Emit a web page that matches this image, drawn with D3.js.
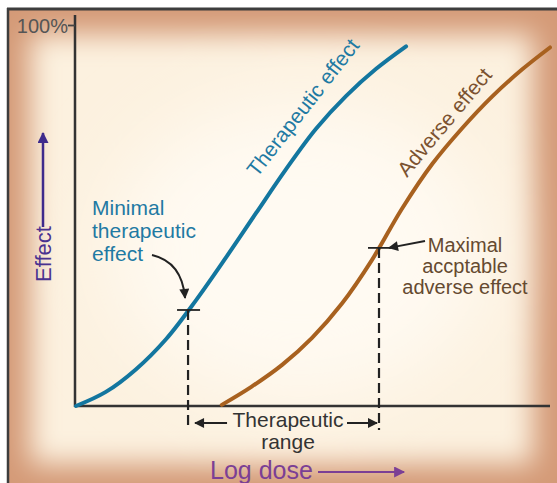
<!DOCTYPE html>
<html>
<head>
<meta charset="utf-8">
<script src="https://cdn.jsdelivr.net/npm/d3@7"></script>
<style>
  html, body { margin: 0; padding: 0; background: #ffffff; }
  svg { display: block; }
  text { font-family: "Liberation Sans", Arial, sans-serif; }
</style>
</head>
<body>
<svg id="chart" width="557" height="483"></svg>
<script>
// ---- data (log dose in arbitrary units, effect in %) ----
const therapeuticDose   = [0.02, 0.65, 1.28, 1.92, 2.55, 3.18, 3.81, 4.44, 5.07, 5.71, 6.34, 6.97];
const therapeuticEffect = [0.0, 3.7, 9.6, 17.6, 27.8, 39.0, 50.6, 62.1, 72.7, 81.4, 88.5, 94.4];
const adverseDose   = [3.09, 3.72, 4.36, 4.99, 5.62, 6.25, 6.88, 7.52, 8.15, 8.78, 9.41, 10.0];
const adverseEffect = [0.3, 5.1, 10.8, 17.9, 26.9, 38.3, 51.7, 63.5, 72.9, 81.2, 88.3, 94.1];
const yTickValues = [100];
const yTickLabels = ["100%"];
const minTherapeutic = [2.38, 25.2];   // [dose, effect]
const maxAdverse     = [6.40, 41.5];   // [dose, effect]

const svg = d3.select("#chart");
const x = d3.scaleLinear().domain([0, 10]).range([75, 550]);
const y = d3.scaleLinear().domain([0, 100]).range([406, 25]);

// ---- background ----
const defs = svg.append("defs");
defs.append("filter").attr("id", "soft").attr("x", "-20%").attr("y", "-20%").attr("width", "140%").attr("height", "140%")
  .append("feGaussianBlur").attr("stdDeviation", 14);
defs.append("filter").attr("id", "soft2").attr("x", "-30%").attr("y", "-30%").attr("width", "160%").attr("height", "160%")
  .append("feGaussianBlur").attr("stdDeviation", 40);
function mk(id, color, w, h) {
  const m = defs.append("marker").attr("id", id).attr("viewBox", "0 0 10 10")
    .attr("refX", 9).attr("refY", 5).attr("markerWidth", w).attr("markerHeight", h)
    .attr("markerUnits", "userSpaceOnUse").attr("orient", "auto");
  m.append("path").attr("d", "M0,0 L10,5 L0,10 Z").attr("fill", color);
}
mk("ahBlack", "#222", 13, 10);
mk("ahPurpleV", "#3e2a8c", 13, 11);
mk("ahPurple", "#7b3f95", 13, 11);

svg.append("rect").attr("x", 7).attr("y", 8).attr("width", 560).attr("height", 480).attr("fill", "#d49a77");
svg.append("rect").attr("x", 30).attr("y", 34).attr("width", 503).attr("height", 430).attr("fill", "#fcf1df").attr("filter", "url(#soft)");
svg.append("ellipse").attr("cx", 300).attr("cy", 250).attr("rx", 190).attr("ry", 150).attr("fill", "#fffaf2").attr("filter", "url(#soft2)");
svg.append("line").attr("x1", 7).attr("x2", 557).attr("y1", 9).attr("y2", 9).attr("stroke", "#3d3d3d").attr("stroke-width", 3);
svg.append("line").attr("x1", 8).attr("x2", 8).attr("y1", 8).attr("y2", 483).attr("stroke", "#3d3d3d").attr("stroke-width", 2.5);

// ---- axes ----
svg.append("line").attr("x1", x(0)).attr("x2", x(10)).attr("y1", y(0)).attr("y2", y(0))
  .attr("stroke", "#333").attr("stroke-width", 2.5);
svg.append("line").attr("x1", x(0)).attr("x2", x(0)).attr("y1", y(0) + 1).attr("y2", y(102.6))
  .attr("stroke", "#333").attr("stroke-width", 2.5);
const yAxis = svg.append("g").attr("transform", `translate(${x(0)},0)`)
  .call(d3.axisLeft(y).tickValues(yTickValues).tickFormat((d, i) => yTickLabels[i]).tickSize(7).tickPadding(0));
yAxis.select(".domain").remove();
yAxis.selectAll("line").attr("stroke", "#444").attr("stroke-width", 1.8);
yAxis.selectAll("text").attr("font-family", "Liberation Sans, Arial, sans-serif").attr("font-size", 20)
  .attr("fill", "#555").attr("dy", "0.36em");

// ---- curves ----
const line = d3.line().x(d => x(d[0])).y(d => y(d[1])).curve(d3.curveCatmullRom.alpha(0.5));
svg.append("path").datum(d3.zip(therapeuticDose, therapeuticEffect)).attr("d", line)
  .attr("fill", "none").attr("stroke", "#13769f").attr("stroke-width", 4).attr("stroke-linecap", "round");
svg.append("path").datum(d3.zip(adverseDose, adverseEffect)).attr("d", line)
  .attr("fill", "none").attr("stroke", "#a8611f").attr("stroke-width", 4).attr("stroke-linecap", "round");

// ---- dashed guides and ticks ----
[minTherapeutic, maxAdverse].forEach(p => {
  svg.append("line").attr("x1", x(p[0])).attr("x2", x(p[0])).attr("y1", y(p[1])).attr("y2", y(0) + 24)
    .attr("stroke", "#222").attr("stroke-width", 2.2).attr("stroke-dasharray", "10,5");
  svg.append("line").attr("x1", x(p[0]) - 11).attr("x2", x(p[0]) + 12).attr("y1", y(p[1])).attr("y2", y(p[1]))
    .attr("stroke", "#222").attr("stroke-width", 1.8);
});

// ---- therapeutic range ----
const gx1 = x(minTherapeutic[0]), gx2 = x(maxAdverse[0]);
svg.append("line").attr("x1", gx1 + 39).attr("x2", gx1 + 7).attr("y1", y(0) + 17).attr("y2", y(0) + 17)
  .attr("stroke", "#222").attr("stroke-width", 2).attr("marker-end", "url(#ahBlack)");
svg.append("line").attr("x1", gx2 - 32).attr("x2", gx2 - 2).attr("y1", y(0) + 17).attr("y2", y(0) + 17)
  .attr("stroke", "#222").attr("stroke-width", 2).attr("marker-end", "url(#ahBlack)");
svg.append("text").attr("x", 288).attr("y", 427).attr("text-anchor", "middle").attr("font-size", 21).attr("fill", "#333").text("Therapeutic");
svg.append("text").attr("x", 288).attr("y", 449).attr("text-anchor", "middle").attr("font-size", 21).attr("fill", "#333").text("range");

// ---- axis titles ----
svg.append("text").attr("transform", "translate(51,282) rotate(-90)").attr("font-size", 22).attr("fill", "#4a3290").text("Effect");
svg.append("line").attr("x1", 43).attr("x2", 43).attr("y1", 227).attr("y2", 133)
  .attr("stroke", "#3e2a8c").attr("stroke-width", 2.5).attr("marker-end", "url(#ahPurpleV)");
svg.append("text").attr("x", 210).attr("y", 479).attr("font-size", 25).attr("fill", "#7b3f95").text("Log dose");
svg.append("line").attr("x1", 318).attr("x2", 404).attr("y1", 472).attr("y2", 472)
  .attr("stroke", "#7b3f95").attr("stroke-width", 2.2).attr("marker-end", "url(#ahPurple)");

// ---- curve labels ----
svg.append("text").attr("transform", "translate(257,178) rotate(-52)").attr("font-size", 21).attr("fill", "#1f7aa3").text("Therapeutic effect");
svg.append("text").attr("transform", "translate(407,178) rotate(-50)").attr("font-size", 21).attr("fill", "#7b5230").text("Adverse effect");

// ---- annotations ----
const minLines = ["Minimal", "therapeutic", "effect"];
svg.append("text").attr("font-size", 21).attr("fill", "#1f7aa3")
  .selectAll("tspan").data(minLines).join("tspan")
  .attr("x", 92).attr("y", (d, i) => 215 + i * 23).text(d => d);
svg.append("path").attr("d", `M152,255 Q182,262 ${x(minTherapeutic[0]) - 3},${y(minTherapeutic[1]) - 12}`)
  .attr("fill", "none").attr("stroke", "#222").attr("stroke-width", 2).attr("marker-end", "url(#ahBlack)");

const maxLines = ["Maximal", "accptable", "adverse effect"];
svg.append("text").attr("font-size", 20).attr("fill", "#654a30").attr("text-anchor", "middle")
  .selectAll("tspan").data(maxLines).join("tspan")
  .attr("x", 465).attr("y", (d, i) => 252 + i * 21).text(d => d);
svg.append("line").attr("x1", 425).attr("x2", x(maxAdverse[0]) + 10).attr("y1", 241).attr("y2", y(maxAdverse[1]))
  .attr("stroke", "#222").attr("stroke-width", 2).attr("marker-end", "url(#ahBlack)");
</script>
</body>
</html>
